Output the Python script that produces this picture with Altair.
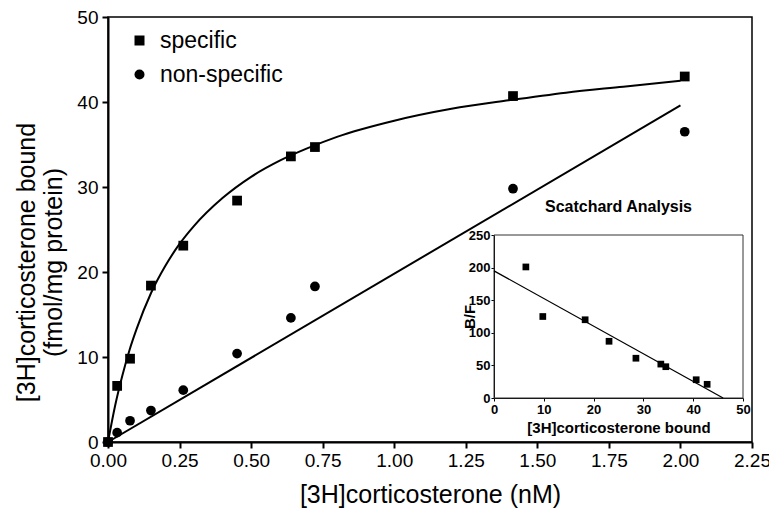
import altair as alt
import pandas as pd

# ---------------- data ----------------
conc = [0, 0.032, 0.077, 0.150, 0.263, 0.451, 0.639, 0.723, 1.415, 2.015]
specific = [0, 6.6, 9.8, 18.4, 23.1, 28.4, 33.6, 34.7, 40.7, 43.0]
nonspecific = [0, 1.1, 2.5, 3.7, 6.1, 10.4, 14.6, 18.3, 29.8, 36.5]
series_names = ["specific", "non-specific"]
series_shapes = ["square", "circle"]

# fitted saturation curve (specific)
curve_x = [0, 0.025, 0.05, 0.075, 0.1, 0.15, 0.2, 0.25, 0.3, 0.4, 0.5,
           0.6, 0.7, 0.8, 1.0, 1.2, 1.4, 1.6, 1.8, 2.0]
curve_y = [0, 4.3, 7.8, 10.8, 13.3, 17.5, 20.7, 23.3, 25.4, 28.7, 31.2,
           33.1, 34.6, 35.9, 37.8, 39.2, 40.2, 41.1, 41.8, 42.5]

# linear fit (non-specific)
line_x = [0, 2.0]
line_y = [0, 39.6]

x_domain = [0, 2.25]
x_ticks = [0, 0.25, 0.5, 0.75, 1.0, 1.25, 1.5, 1.75, 2.0, 2.25]
y_domain = [0, 50]
y_ticks = [0, 10, 20, 30, 40, 50]

# Scatchard inset
inset_bound = [6.4, 9.8, 18.3, 23.1, 28.5, 33.5, 34.5, 40.6, 42.8]
inset_bf = [201, 125, 120, 87, 61, 52, 48, 28, 21]
inset_line_x = [0, 46]
inset_line_y = [195, 0]
inset_x_domain = [0, 50]
inset_x_ticks = [0, 10, 20, 30, 40, 50]
inset_y_domain = [0, 250]
inset_y_ticks = [0, 50, 100, 150, 200, 250]
inset_title = "Scatchard Analysis"

FONT = "Liberation Sans"
W, H = 644, 425

# ---------------- main panel ----------------
pts = pd.DataFrame({
    "conc": conc + conc,
    "bound": specific + nonspecific,
    "series": [series_names[0]] * len(conc) + [series_names[1]] * len(conc),
})
curve_df = pd.DataFrame({"conc": curve_x, "bound": curve_y})
line_df = pd.DataFrame({"conc": line_x, "bound": line_y})

X = alt.X("conc:Q",
          scale=alt.Scale(domain=x_domain, nice=False, zero=False),
          axis=alt.Axis(values=x_ticks, format=".2f", title="[3H]corticosterone (nM)",
                        labelFontSize=19, titleFontSize=25, titleFontWeight="normal",
                        tickSize=6, tickWidth=2, domainWidth=2, labelPadding=3,
                        titlePadding=12, labelFlush=False))
Y = alt.Y("bound:Q",
          scale=alt.Scale(domain=y_domain, nice=False),
          axis=alt.Axis(values=y_ticks, title=["[3H]corticosterone bound", "(fmol/mg protein)"],
                        labelFontSize=19, titleFontSize=25, titleFontWeight="normal",
                        titleLineHeight=27, tickSize=6, tickWidth=2, domainWidth=2,
                        labelPadding=4, titlePadding=10, titleY=245, labelFlush=False))

curve = alt.Chart(curve_df).mark_line(color="black", strokeWidth=2,
                                      interpolate="monotone").encode(x=X, y=Y)
fit_line = alt.Chart(line_df).mark_line(color="black", strokeWidth=2).encode(x=X, y=Y)
points = alt.Chart(pts).mark_point(filled=True, color="black", opacity=1, size=95).encode(
    x=X, y=Y,
    shape=alt.Shape("series:N",
                    scale=alt.Scale(domain=series_names, range=series_shapes),
                    legend=alt.Legend(orient="none", legendX=20, legendY=12, title=None,
                                      labelFontSize=23, labelFont=FONT, labelColor="black",
                                      symbolSize=100, symbolFillColor="black",
                                      symbolStrokeColor="black", symbolStrokeWidth=0,
                                      rowPadding=10, labelOffset=9, padding=0)),
)
main = alt.layer(curve, fit_line, points)

# ---------------- inset (Scatchard) ----------------
ins_left, ins_right = 386, 635
ins_top, ins_bottom = 218, 381

inset_pts = pd.DataFrame({"b": inset_bound, "bf": inset_bf})
inset_line_df = pd.DataFrame({"b": inset_line_x, "bf": inset_line_y})
frame_df = pd.DataFrame({"b": [inset_x_domain[0]], "b2": [inset_x_domain[1]],
                         "bf": [inset_y_domain[0]], "bf2": [inset_y_domain[1]]})
title_df = pd.DataFrame({"b": [sum(inset_x_domain) / 2], "bf": [inset_y_domain[1]],
                         "label": [inset_title]})

IX = alt.X("b:Q",
           scale=alt.Scale(domain=inset_x_domain, range=[ins_left, ins_right], nice=False),
           axis=alt.Axis(orient="bottom", offset=ins_bottom - H, values=inset_x_ticks,
                         title="[3H]corticosterone bound", titleFontSize=15,
                         titleFontWeight="bold", labelFontSize=13, labelFontWeight="bold",
                         tickSize=3, labelPadding=2, titlePadding=4, domainWidth=1,
                         labelFlush=False))
IY = alt.Y("bf:Q",
           scale=alt.Scale(domain=inset_y_domain, range=[ins_bottom, ins_top], nice=False),
           axis=alt.Axis(orient="left", offset=-ins_left, values=inset_y_ticks,
                         title="B/F", titleFontSize=15, titleFontWeight="bold",
                         labelFontSize=13, labelFontWeight="bold", tickSize=3,
                         labelPadding=1, titlePadding=-9, domainWidth=1,
                         labelFlush=False))

frame = alt.Chart(frame_df).mark_rect(fillOpacity=0, stroke="#333333", strokeWidth=1).encode(
    x=IX, x2="b2:Q", y=IY, y2="bf2:Q")
inset_fit = alt.Chart(inset_line_df).mark_line(color="black", strokeWidth=1.3).encode(x=IX, y=IY)
inset_points = alt.Chart(inset_pts).mark_point(shape="square", filled=True, color="black",
                                               opacity=1, size=45).encode(x=IX, y=IY)
inset_label = alt.Chart(title_df).mark_text(font=FONT, fontSize=16, fontWeight="bold",
                                            color="black", dy=-28).encode(
    x=IX, y=IY, text="label:N")
inset = alt.layer(frame, inset_fit, inset_points, inset_label)

chart = alt.layer(main, inset).resolve_scale(
    x="independent", y="independent", shape="independent"
).properties(
    width=W, height=H,
    autosize=alt.AutoSizeParams(type="none"),
    padding={"left": 100, "top": 9, "right": 17, "bottom": 66},
).configure_axis(
    labelFont=FONT, titleFont=FONT, labelColor="black", titleColor="black",
    domainColor="black", tickColor="black", grid=False,
).configure_view(
    stroke="black", strokeWidth=1.5,
)

chart.save("out.html", embed_options={"renderer": "svg", "actions": False})
